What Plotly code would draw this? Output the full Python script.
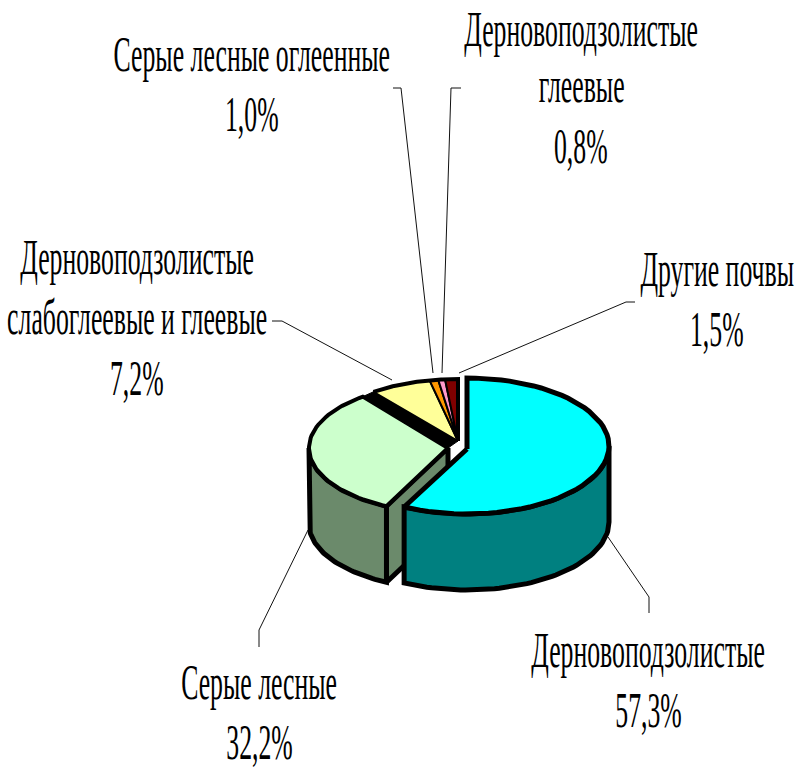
import numpy as np
import plotly.graph_objects as go

# ---- data ----
values = [57.3, 32.2, 7.2, 1.0, 0.8, 1.5]
label_lines = [
    ["Дерновоподзолистые"],
    ["Серые лесные"],
    ["Дерновоподзолистые", "слабоглеевые и глеевые"],
    ["Серые лесные оглеенные"],
    ["Дерновоподзолистые", "глеевые"],
    ["Другие почвы"],
]
top_colors = ["#00FFFF", "#CCFFCC", "#FFFF99", "#FF9900", "#FF99CC", "#800000"]
wall_colors = ["#008080", "#6B8A6B"]

# ---- layout (pixel plane) ----
W, H = 799, 771
DEPTH = 76
LW = 5
THIN = 2
# per-slice ellipse: cx, cy, rx, ry, apex x, apex y
group = (458, 440, 138, 61, 458, 441)
ellipses = [(467, 446, 142, 68, 467, 449), (448, 448, 139, 65, 448, 448), group, group, group, group]
# label block: centre x, y of the first line
label_pos = [(648, 650), (259, 682), (137, 257), (252, 54), (581, 25), (717, 269)]
LINE_STEP = 60.5
MIN_LABEL_Y = 29  # keeps the stretched top line inside the page
leader_stubs = [
    ([649, 649], [613, 597]),
    ([259, 259], [647, 630]),
    ([272, 282], [321, 321]),
    ([393, 401], [88, 88]),
    ([461, 451], [88, 88]),
    ([635, 626], [302, 302]),
]
leader_ends = [(608, 537), (308, 530), (392, 380), (433, 373), (442, 373), (459, 373)]

edges = np.concatenate([[0], np.cumsum(values)]) * 360 / sum(values)


def arc(i, t0, t1, dy=0, n=60):
    cx, cy, rx, ry, _, _ = ellipses[i]
    t = np.radians(np.linspace(t0, t1, n))
    return cx + rx * np.sin(t), cy - ry * np.cos(t) + dy


fig = go.Figure()


def poly(x, y, fill, lw=LW):
    fig.add_trace(go.Scatter(x=list(x), y=list(y), mode="lines", fill="toself", fillcolor=fill,
                             line=dict(color="black", width=lw), hoverinfo="skip", showlegend=False))


# ---- side walls ----
ax, ay = ellipses[1][4], ellipses[1][5]
ex, ey = arc(1, edges[1], edges[1], n=1)
poly([ex[0], ax, ax, ex[0], ex[0]], [ey[0], ay, ay + DEPTH, ey[0] + DEPTH, ey[0]], wall_colors[1])
x1, y1 = arc(1, edges[1], 270)
x2, y2 = arc(1, 270, edges[1], dy=DEPTH)
poly(np.r_[x1, x2, x1[0]], np.r_[y1, y2, y1[0]], wall_colors[1])
x1, y1 = arc(0, 90, edges[1])
x2, y2 = arc(0, edges[1], 90, dy=DEPTH)
poly(np.r_[x1, x2, x1[0]], np.r_[y1, y2, y1[0]], wall_colors[0])

# black band between the green slice and the group behind it
gx, gy = arc(1, edges[2], edges[2], n=1)
yx, yy = arc(2, edges[2], edges[2], n=1)
poly([ax, gx[0], yx[0], group[4], ax], [ay, gy[0], yy[0], group[5], ay], "black", lw=1)

# ---- top faces ----
for i in [1, 2, 3, 4, 5]:
    x, y = arc(i, edges[i], edges[i + 1])
    _, _, _, _, px, py = ellipses[i]
    poly(np.r_[px, x, px], np.r_[py, y, py], top_colors[i], lw=LW - 1 if i == 1 else THIN)
# thick outline along the rim and right edge of the small slices
x, y = arc(2, edges[2], 360)
fig.add_trace(go.Scatter(x=list(np.r_[x, group[4]]), y=list(np.r_[y, group[5]]), mode="lines",
                         line=dict(color="black", width=LW - 1), hoverinfo="skip", showlegend=False))
x, y = arc(0, edges[0], edges[1])
poly(np.r_[ellipses[0][4], x, ellipses[0][4]], np.r_[ellipses[0][5], y, ellipses[0][5]], top_colors[0])

# ---- leader lines ----
for (lx, ly), (ex_, ey_) in zip(leader_stubs, leader_ends):
    fig.add_trace(go.Scatter(x=lx + [ex_], y=ly + [ey_], mode="lines",
                             line=dict(color="#111111", width=1), hoverinfo="skip", showlegend=False))

# ---- labels ----
for lines, v, (cx, cy) in zip(label_lines, values, label_pos):
    all_lines = lines + [f"{v:.1f}%".replace(".", ",")]
    for k, txt in enumerate(all_lines):
        fig.add_annotation(x=cx, y=max(cy + k * LINE_STEP, MIN_LABEL_Y), text=txt, showarrow=False,
                           xanchor="center", yanchor="middle", xref="x", yref="y",
                           font=dict(family="Liberation Serif", size=43, color="black"))

fig.update_layout(
    width=W, height=H, margin=dict(l=0, r=0, t=0, b=0), autosize=False,
    paper_bgcolor="white", plot_bgcolor="white", showlegend=False,
    xaxis=dict(range=[0, W], visible=False, fixedrange=True),
    yaxis=dict(range=[H, 0], visible=False, fixedrange=True),
)

squeeze = """
document.body.style.margin='0';
document.body.style.overflow='hidden';
document.querySelectorAll('.annotation-text').forEach(function(t){
  t.style.transformBox='fill-box';
  t.style.transformOrigin='center';
  t.style.transform='scale(0.599,1.163)';
});
"""
fig.write_html("out.html", post_script=squeeze, config={"displayModeBar": False})
